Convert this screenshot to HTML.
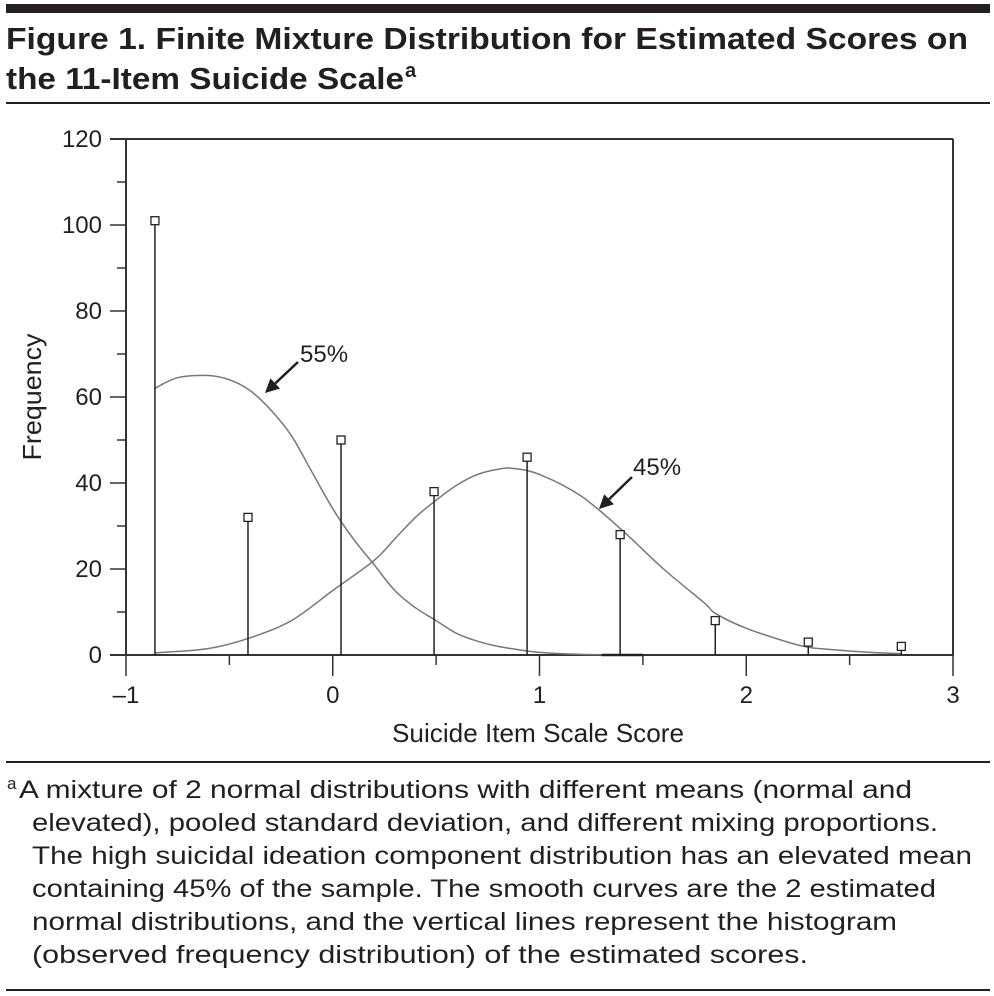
<!DOCTYPE html>
<html><head><meta charset="utf-8"><style>
html,body{margin:0;padding:0;background:#fff;}
svg{display:block;font-family:"Liberation Sans",sans-serif;}
</style></head><body>
<svg id="fig" width="994" height="996" viewBox="0 0 994 996" xmlns="http://www.w3.org/2000/svg">
<rect x="6" y="4" width="984" height="9" fill="#231f20"/>
<text x="6" y="49" font-size="31" font-weight="bold" fill="#231f20" textLength="962" lengthAdjust="spacingAndGlyphs">Figure 1. Finite Mixture Distribution for Estimated Scores on</text>
<text x="6" y="89" font-size="31" font-weight="bold" fill="#231f20" textLength="398" lengthAdjust="spacingAndGlyphs">the 11-Item Suicide Scale</text>
<text x="405" y="77" font-size="20" font-weight="bold" fill="#231f20">a</text>
<rect x="6" y="102" width="984" height="2" fill="#231f20"/>
<g id="plot"></g>
<rect x="6" y="761" width="984" height="2" fill="#231f20"/>
<g font-size="25" fill="#231f20">
<text x="7" y="789" font-size="17">a</text>
<text x="19" y="798" textLength="893" lengthAdjust="spacingAndGlyphs">A mixture of 2 normal distributions with different means (normal and</text>
<text x="32" y="831" textLength="906" lengthAdjust="spacingAndGlyphs">elevated), pooled standard deviation, and different mixing proportions.</text>
<text x="32" y="864" textLength="940" lengthAdjust="spacingAndGlyphs">The high suicidal ideation component distribution has an elevated mean</text>
<text x="32" y="897" textLength="904" lengthAdjust="spacingAndGlyphs">containing 45% of the sample. The smooth curves are the 2 estimated</text>
<text x="32" y="930" textLength="865" lengthAdjust="spacingAndGlyphs">normal distributions, and the vertical lines represent the histogram</text>
<text x="32" y="963" textLength="776" lengthAdjust="spacingAndGlyphs">(observed frequency distribution) of the estimated scores.</text>
</g>
<rect x="6" y="989" width="984" height="2" fill="#231f20"/>
</svg>
<script>
const stemX = [-0.86, -0.41, 0.04, 0.49, 0.94, 1.39, 1.85, 2.30, 2.75];
const stemY = [101, 32, 50, 38, 46, 28, 8, 3, 2];
const curve1X = [-0.86,-0.75,-0.6,-0.5,-0.4,-0.3,-0.2,-0.1,0,0.1,0.2,0.3,0.4,0.5,0.6,0.7,0.8,0.9,1.0,1.2,1.5];
const curve1Y = [62,64.5,65,64,61.5,57,51,42.5,34,27,21,15,11,8,5,3.2,2,1.2,0.6,0.15,0];
const curve2X = [-0.86,-0.6,-0.4,-0.2,0,0.2,0.3,0.4,0.5,0.6,0.7,0.8,0.87,1.0,1.2,1.4,1.6,1.8,1.85,2.0,2.2,2.3,2.4,2.6,2.75];
const curve2Y = [0.5,1.5,4,8,15,22,27,32,36,39.5,42,43.2,43.4,42,37,29,20,12,9.7,6.2,3,1.8,1.3,0.6,0.3];
const yTicks = [0,20,40,60,80,100,120];
const xTicks = [-1,0,1,2,3];
const labels = ['55%','45%'];

const NS='http://www.w3.org/2000/svg';
const g=document.getElementById('plot');
const X=v=>126+(v+1)*206.75;
const Y=v=>655-v*4.3;
function mk(t,a){const e=document.createElementNS(NS,t);for(const k in a)e.setAttribute(k,a[k]);g.appendChild(e);return e;}

let e;
e=mk('line',{x1:110,y1:Y(120),x2:X(3),y2:Y(120),stroke:'#333','stroke-width':2});


e=mk('line',{x1:X(3),y1:Y(120),x2:X(3),y2:Y(0),stroke:'#333','stroke-width':2});


e=mk('line',{x1:X(-1),y1:Y(120)-1,x2:X(-1),y2:Y(0),stroke:'#333','stroke-width':2});


e=mk('line',{x1:110,y1:Y(0),x2:X(3)+1,y2:Y(0),stroke:'#333','stroke-width':2});



yTicks.forEach(v=>{
  e=mk('line',{x1:110,y1:Y(v),x2:X(-1),y2:Y(v),stroke:'#333','stroke-width':1.5});
  
  
  e=mk('text',{x:102,y:Y(v)+8,'text-anchor':'end','font-size':24,fill:'#231f20'});
  e.textContent=v;
  
  
  if(v<120){
    e=mk('line',{x1:117,y1:Y(v+10),x2:X(-1),y2:Y(v+10),stroke:'#333','stroke-width':1.5});
    
    
  }
});
xTicks.forEach(v=>{
  e=mk('line',{x1:X(v),y1:Y(0),x2:X(v),y2:Y(0)+21,stroke:'#333','stroke-width':1.5});
  
  
  e=mk('text',{x:X(v),y:Y(0)+48,'text-anchor':'middle','font-size':24,fill:'#231f20'});
  e.textContent=v<0?'\u2013'+Math.abs(v):v;
  
  
  if(v<3){
    e=mk('line',{x1:X(v+0.5),y1:Y(0),x2:X(v+0.5),y2:Y(0)+10,stroke:'#333','stroke-width':1.5});
    
    
  }
});
e=mk('text',{x:538,y:742,'text-anchor':'middle','font-size':26,fill:'#231f20',textLength:292,lengthAdjust:'spacingAndGlyphs'});
e.textContent='Suicide Item Scale Score';


e=mk('text',{x:0,y:0,'text-anchor':'middle','font-size':26,fill:'#231f20',transform:'translate(41,397) rotate(-90)',textLength:127,lengthAdjust:'spacingAndGlyphs'});
e.textContent='Frequency';



function path(xs,ys){
  const p=xs.map((x,i)=>[X(x),Y(ys[i])]);
  let d='M'+p[0][0].toFixed(1)+','+p[0][1].toFixed(1);
  for(let i=0;i<p.length-1;i++){
    const p0=p[Math.max(0,i-1)],p1=p[i],p2=p[i+1],p3=p[Math.min(p.length-1,i+2)];
    const c1x=p1[0]+(p2[0]-p0[0])/6,c1y=p1[1]+(p2[1]-p0[1])/6;
    const c2x=p2[0]-(p3[0]-p1[0])/6,c2y=p2[1]-(p3[1]-p1[1])/6;
    d+=` C${c1x.toFixed(1)},${c1y.toFixed(1)} ${c2x.toFixed(1)},${c2y.toFixed(1)} ${p2[0].toFixed(1)},${p2[1].toFixed(1)}`;
  }
  return d;
}
e=mk('path',{d:path(curve1X,curve1Y),fill:'none',stroke:'#777','stroke-width':1.5});


e=mk('path',{d:path(curve2X,curve2Y),fill:'none',stroke:'#777','stroke-width':1.5});


e=mk('line',{x1:X(1.3),y1:Y(0),x2:X(1.5),y2:Y(0),stroke:'#222','stroke-width':2.5});



stemX.forEach((x,i)=>{
  e=mk('line',{x1:X(x),y1:Y(0),x2:X(x),y2:Y(stemY[i])+4,stroke:'#222','stroke-width':1.5});
  
  
  e=mk('rect',{x:X(x)-4,y:Y(stemY[i])-4,width:8,height:8,fill:'#fff',stroke:'#222','stroke-width':1.3});
  
  
});

function arrow(x1,y1,x2,y2){
  const a=Math.atan2(y2-y1,x2-x1),L=14,W=7;
  const bx=x2-L*Math.cos(a),by=y2-L*Math.sin(a);
  e=mk('line',{x1:x1,y1:y1,x2:bx,y2:by,stroke:'#231f20','stroke-width':2.5});
  
  
  e=mk('polygon',{points:`${x2},${y2} ${bx+W*Math.sin(a)},${by-W*Math.cos(a)} ${bx-W*Math.sin(a)},${by+W*Math.cos(a)}`,fill:'#231f20'});
  
  
}
arrow(298,362,265,393);
arrow(632,477,599,509);
e=mk('text',{x:300,y:362,'font-size':24,fill:'#231f20'});
e.textContent=labels[0];


e=mk('text',{x:633,y:475,'font-size':24,fill:'#231f20'});
e.textContent=labels[1];


</script>
</body></html>
